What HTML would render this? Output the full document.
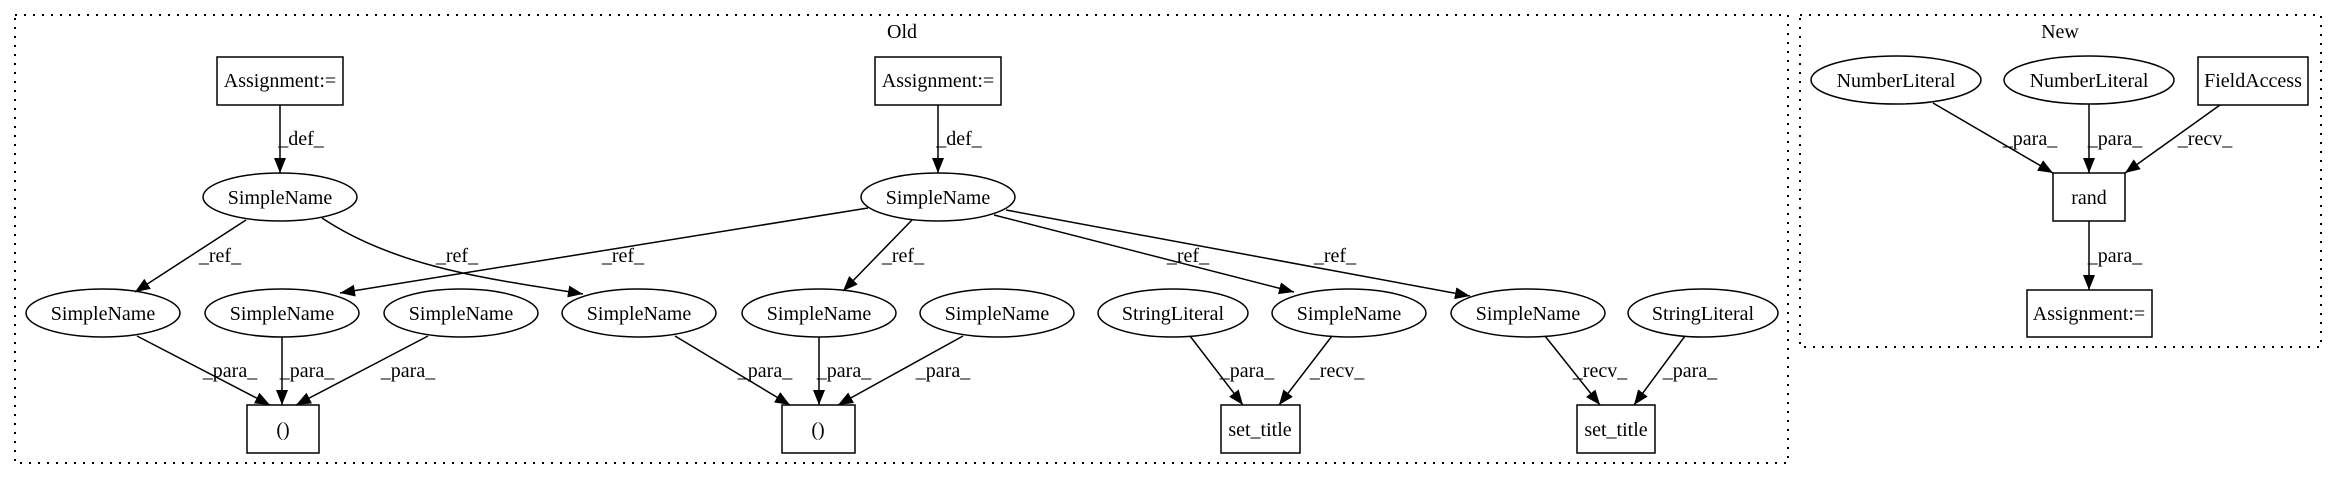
<!DOCTYPE html>
<html><head><meta charset="utf-8"><style>
body{margin:0;background:#fff}
svg text{font-family:"Liberation Serif",serif;font-size:20px;fill:#000}
</style></head><body>
<svg width="2336" height="480" viewBox="0 0 2336 480" xmlns="http://www.w3.org/2000/svg">
<defs><marker id="a" markerUnits="userSpaceOnUse" markerWidth="16" markerHeight="12" refX="15" refY="6" orient="auto"><path d="M0,0L15,6L0,12z" fill="#000"/></marker></defs>
<rect x="15" y="15" width="1773" height="448" fill="none" stroke="#000" stroke-width="2" stroke-dasharray="2,7"/>
<rect x="1800" y="15" width="521" height="332" fill="none" stroke="#000" stroke-width="2" stroke-dasharray="2,7"/>
<text x="902" y="38" text-anchor="middle">Old</text>
<text x="2060" y="38" text-anchor="middle">New</text>
<g fill="none" stroke="#000" stroke-width="1.5">
<rect x="217" y="57" width="126" height="48"/>
<rect x="875" y="57" width="126" height="48"/>
<ellipse cx="280" cy="197" rx="77" ry="24"/>
<ellipse cx="938" cy="197" rx="77" ry="24"/>
<ellipse cx="103" cy="313" rx="77" ry="24"/>
<ellipse cx="282" cy="313" rx="77" ry="24"/>
<ellipse cx="461" cy="313" rx="77" ry="24"/>
<ellipse cx="639" cy="313" rx="77" ry="24"/>
<ellipse cx="819" cy="313" rx="77" ry="24"/>
<ellipse cx="997" cy="313" rx="77" ry="24"/>
<ellipse cx="1173" cy="313" rx="75" ry="24"/>
<ellipse cx="1349" cy="313" rx="77" ry="24"/>
<ellipse cx="1528" cy="313" rx="77" ry="24"/>
<ellipse cx="1703" cy="313" rx="75" ry="24"/>
<rect x="247" y="405" width="72" height="48"/>
<rect x="782" y="405" width="73" height="48"/>
<rect x="1221" y="405" width="79" height="48"/>
<rect x="1577" y="405" width="78" height="48"/>
<ellipse cx="1896" cy="80" rx="85" ry="24"/>
<ellipse cx="2089" cy="80" rx="85" ry="24"/>
<rect x="2198" y="57" width="110" height="48"/>
<rect x="2053" y="173" width="72" height="48"/>
<rect x="2027" y="290" width="125" height="47"/>
</g>
<g stroke="#000" stroke-width="1.5" fill="none" marker-end="url(#a)">
<path d="M280,105L280,173"/>
<path d="M938,105L938,173"/>
<path d="M246,220L135,292"/>
<path d="M322,218C400,270 500,280 583,294"/>
<path d="M868,208L340,293"/>
<path d="M912,220L843,291"/>
<path d="M994,215L1294,292"/>
<path d="M1006,210L1470,296"/>
<path d="M137,336L270,405"/>
<path d="M282,337L282,405"/>
<path d="M428,336L296,405"/>
<path d="M675,336L790,405"/>
<path d="M819,337L819,405"/>
<path d="M963,336L838,405"/>
<path d="M1190,336L1243,405"/>
<path d="M1332,336L1279,405"/>
<path d="M1545,336L1600,405"/>
<path d="M1685,336L1634,405"/>
<path d="M1933,103L2053,173"/>
<path d="M2089,104L2089,173"/>
<path d="M2220,105L2125,173"/>
<path d="M2089,221L2089,290"/>
</g>
<g text-anchor="middle">
<text x="280" y="87">Assignment:=</text>
<text x="938" y="87">Assignment:=</text>
<text x="280" y="204">SimpleName</text>
<text x="938" y="204">SimpleName</text>
<text x="103" y="320">SimpleName</text>
<text x="282" y="320">SimpleName</text>
<text x="461" y="320">SimpleName</text>
<text x="639" y="320">SimpleName</text>
<text x="819" y="320">SimpleName</text>
<text x="997" y="320">SimpleName</text>
<text x="1173" y="320">StringLiteral</text>
<text x="1349" y="320">SimpleName</text>
<text x="1528" y="320">SimpleName</text>
<text x="1703" y="320">StringLiteral</text>
<text x="283" y="436">()</text>
<text x="818" y="436">()</text>
<text x="1260" y="436">set_title</text>
<text x="1616" y="436">set_title</text>
<text x="1896" y="87">NumberLiteral</text>
<text x="2089" y="87">NumberLiteral</text>
<text x="2253" y="87">FieldAccess</text>
<text x="2089" y="204">rand</text>
<text x="2089" y="320">Assignment:=</text>
<text x="301" y="145">_def_</text>
<text x="959" y="145">_def_</text>
<text x="220" y="262">_ref_</text>
<text x="457" y="262">_ref_</text>
<text x="623" y="262">_ref_</text>
<text x="903" y="262">_ref_</text>
<text x="1188" y="262">_ref_</text>
<text x="1335" y="262">_ref_</text>
<text x="230" y="377">_para_</text>
<text x="307" y="377">_para_</text>
<text x="408" y="377">_para_</text>
<text x="765" y="377">_para_</text>
<text x="844" y="377">_para_</text>
<text x="943" y="377">_para_</text>
<text x="1247" y="377">_para_</text>
<text x="1337" y="377">_recv_</text>
<text x="1600" y="377">_recv_</text>
<text x="1690" y="377">_para_</text>
<text x="2030" y="145">_para_</text>
<text x="2115" y="145">_para_</text>
<text x="2205" y="145">_recv_</text>
<text x="2115" y="262">_para_</text>
</g>
</svg>
</body></html>
